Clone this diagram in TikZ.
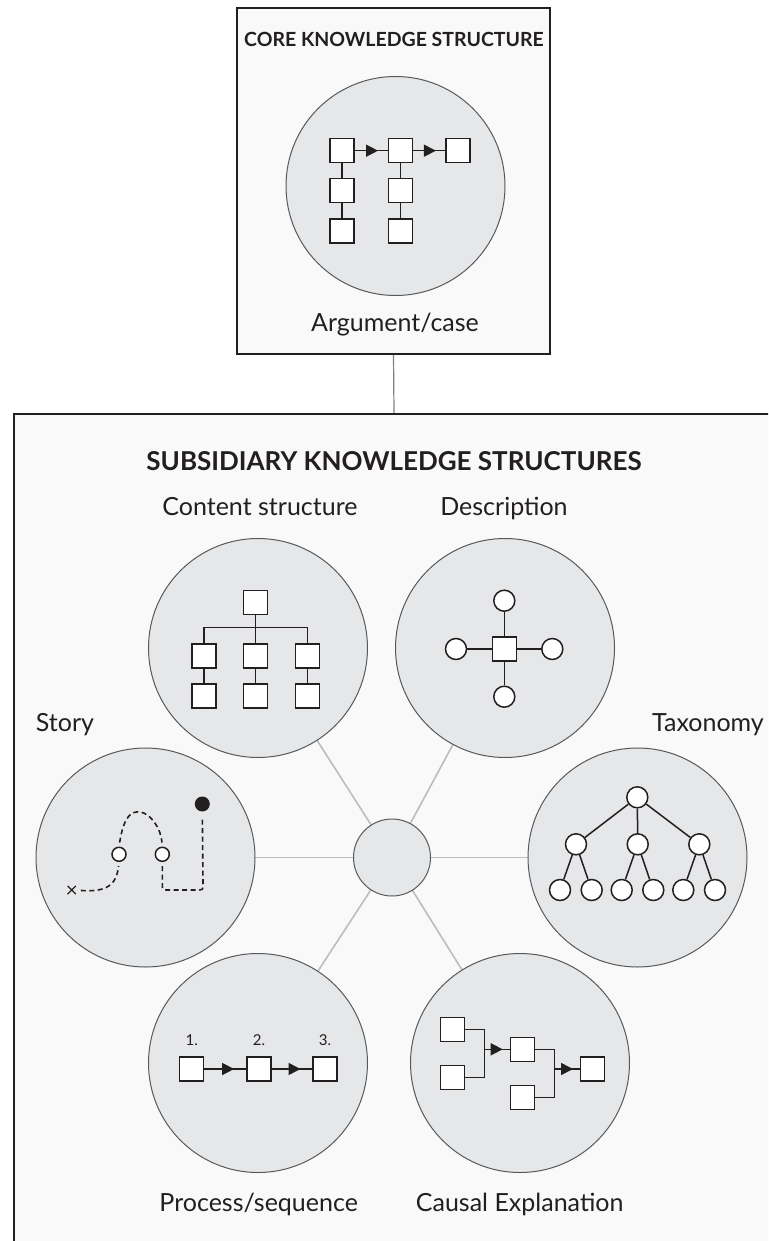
\documentclass[tikz,border=0pt]{standalone}
\usepackage{fontspec}
\setmainfont{Lato}
\usetikzlibrary{arrows.meta,decorations.markings,shapes.misc}
\definecolor{boxfill}{HTML}{F9F9F9}
\definecolor{circfill}{HTML}{E6E7E8}
\definecolor{circline}{HTML}{58595B}
\definecolor{spoke}{HTML}{BDBDBD}
\definecolor{ink}{HTML}{231F20}
\definecolor{joiner}{HTML}{808080}
\begin{document}
\begin{tikzpicture}[x=1pt,y=-1pt,
  frame/.style={draw=ink, line width=1.8pt, fill=boxfill, inner sep=0pt},
  big/.style={circle, draw=circline, line width=1pt, fill=circfill, minimum size=219pt, inner sep=0pt},
  hub/.style={circle, draw=circline, line width=1pt, fill=circfill, minimum size=77pt, inner sep=0pt},
  sq/.style={draw=ink, line width=1.5pt, fill=white, minimum size=24pt, inner sep=0pt},
  rd/.style={circle, draw=ink, line width=1.5pt, fill=white, minimum size=21pt, inner sep=0pt},
  link/.style={draw=ink, line width=1.5pt},
  trail/.style={draw=ink, line width=1.6pt, dash pattern=on 5pt off 3.5pt},
  midarrow/.style={postaction={decorate}, decoration={markings, mark=at position #1 with {\arrow{Triangle[length=12pt,width=12pt]}}}},
  spokeline/.style={draw=spoke, line width=1.6pt},
  lab/.style={font=\fontsize{25}{29}\selectfont, text=ink, inner sep=0pt, anchor=base},
  num/.style={font=\fontsize{15}{18}\selectfont, text=ink, inner sep=0pt, anchor=base},
  ttl/.style={font=\bfseries\fontsize{26}{30}\selectfont, text=ink, inner sep=0pt, anchor=base},
]
\useasboundingbox (0,0) rectangle (768,1241);
\clip (0,0) rectangle (768,1241);
\fill[white] (0,0) rectangle (768,1241);

% ---- core box ----
\node[frame, minimum width=313pt, minimum height=346pt] (core) at (393.5,181) {};
\node[frame, minimum width=800pt, minimum height=900pt, anchor=north west] (sub) at (13,413) {};
\coordinate (subtop) at (394,413);
\draw[joiner, line width=1.2pt] (core.south) -- (subtop);

\node[ttl, font=\bfseries\fontsize{19.5}{23}\selectfont] (coretitle) at (394,47) {CORE KNOWLEDGE STRUCTURE};
\node[big] (cc) at (395.5,186) {};
\node[lab] (corelab) at (395,331) {Argument/case};

\node[sq] (t11) at (342,150.7) {};
\node[sq] (t12) at (400.3,150.7) {};
\node[sq] (t13) at (458,150.7) {};
\node[sq] (t21) at (342,190.7) {};
\node[sq] (t31) at (342,231) {};
\node[sq] (t22) at (400.3,190.7) {};
\node[sq] (t32) at (400.3,231) {};
\draw[link] (t11) -- (t21); \draw[link] (t21) -- (t31);
\draw[link] (t12) -- (t22); \draw[link] (t22) -- (t32);
\draw[link, midarrow=0.71] (t11) -- (t12);
\draw[link, midarrow=0.71] (t12) -- (t13);

% ---- subsidiary ----
\node[ttl] (subtitle) at (394,470) {SUBSIDIARY KNOWLEDGE STRUCTURES};

\coordinate (hc) at (392,857.5);
\coordinate (cC) at (258,648);
\coordinate (cD) at (505,648);
\coordinate (cS) at (145.5,857.5);
\coordinate (cT) at (637.5,857.5);
\coordinate (cP) at (258,1063);
\coordinate (cE) at (520,1063);
\foreach \c in {cC,cD,cS,cT,cP,cE} {\draw[spokeline] (hc) -- (\c);}

\node[hub] (hubc) at (hc) {};
\node[big] (content) at (cC) {};
\node[big] (desc) at (cD) {};
\node[big] (story) at (cS) {};
\node[big] (tax) at (cT) {};
\node[big] (proc) at (cP) {};
\node[big] (caus) at (cE) {};

\node[lab] (lcontent) at (260,515) {Content structure};
\node[lab] (ldesc) at (504,515) {Description};
\node[lab] (lstory) at (65,731) {Story};
\node[lab, anchor=base east] (ltax) at (764,731) {Taxonomy};
\node[lab] (lproc) at (258.7,1211.7) {Process/sequence};
\node[lab] (lcaus) at (519.7,1211.7) {Causal Explanation};

% content structure icon
\node[sq] (c0) at (255.7,602.3) {};
\node[sq] (c1a) at (204,656) {};
\node[sq] (c2a) at (255.7,656) {};
\node[sq] (c3a) at (307.3,656) {};
\node[sq] (c1b) at (204,696) {};
\node[sq] (c2b) at (255.7,696) {};
\node[sq] (c3b) at (307.3,696) {};
\coordinate (cbar) at (255.7,627.7);
\draw[link] (c0) -- (c2a);
\draw[link] (c1a) |- (cbar);
\draw[link] (c3a) |- (cbar);
\draw[link] (c1a) -- (c1b);
\draw[link] (c2a) -- (c2b);
\draw[link] (c3a) -- (c3b);

% description icon
\node[sq] (d0) at (504.3,649) {};
\node[rd] (du) at (504.3,600.7) {};
\node[rd] (dd) at (504.3,696.7) {};
\node[rd] (dl) at (456,649) {};
\node[rd] (dr) at (552.3,649) {};
\draw[link] (d0) -- (du); \draw[link] (d0) -- (dd);
\draw[link] (d0) -- (dl); \draw[link] (d0) -- (dr);

% story icon
\node[cross out, draw=ink, line width=1.2pt, minimum size=7pt, inner sep=0pt] (sx) at (71.7,890) {};
\node[rd, minimum size=14pt] (s1) at (119,854.3) {};
\node[rd, minimum size=14pt] (s2) at (162.3,854.3) {};
\node[circle, fill=ink, minimum size=15pt, inner sep=0pt] (sd) at (202.3,804) {};
\draw[trail, shorten <=5pt, shorten >=4pt] (sx.east) .. controls (112,893) and (117,880) .. (s1.south);
\draw[trail, shorten <=4pt, shorten >=4pt] (s1.north) .. controls (124,815) and (132,811) .. (140,812) .. controls (150,813) and (161,828) .. (s2.north);
\draw[trail, shorten <=4pt, shorten >=6pt] (s2.south) -- (162.3,884) .. controls (162.3,890) .. (168,890) -- (197,890) .. controls (203,890) .. (203,884) -- (sd.south);

% taxonomy icon
\node[rd] (r0) at (637.3,797.3) {};
\node[rd] (r1) at (576,844.3) {};
\node[rd] (r2) at (637.7,844.3) {};
\node[rd] (r3) at (699.3,844.3) {};
\node[rd] (r11) at (560,890) {};
\node[rd] (r12) at (591.7,890) {};
\node[rd] (r21) at (621.7,890) {};
\node[rd] (r22) at (653.3,890) {};
\node[rd] (r31) at (683.3,890) {};
\node[rd] (r32) at (715,890) {};
\draw[link] (r0) -- (r1); \draw[link] (r0) -- (r2); \draw[link] (r0) -- (r3);
\draw[link] (r1) -- (r11); \draw[link] (r1) -- (r12);
\draw[link] (r2) -- (r21); \draw[link] (r2) -- (r22);
\draw[link] (r3) -- (r31); \draw[link] (r3) -- (r32);

% process icon
\node[sq] (p1) at (191.7,1069) {};
\node[sq] (p2) at (259,1069) {};
\node[sq] (p3) at (325,1069) {};
\node[num] (n1) at (191.7,1045) {1.};
\node[num] (n2) at (259,1045) {2.};
\node[num] (n3) at (325,1045) {3.};
\draw[link, midarrow=0.71] (p1) -- (p2);
\draw[link, midarrow=0.71] (p2) -- (p3);

% causal icon
\node[sq] (ka) at (452.3,1029.3) {};
\node[sq] (kb) at (452.3,1077.3) {};
\node[sq] (kc) at (522.3,1049.3) {};
\node[sq] (kd) at (522.3,1097.3) {};
\node[sq] (ke) at (592.7,1069) {};
\coordinate (j1) at (484.3,1049.3);
\coordinate (j2) at (554.3,1069);
\draw[link] (ka.east) -| (j1) |- (kb.east);
\draw[link, midarrow=0.73] (j1) -- (kc.west);
\draw[link] (kc.east) -| (j2) |- (kd.east);
\draw[link, midarrow=0.73] (j2) -- (ke.west);
\end{tikzpicture}
\end{document}
